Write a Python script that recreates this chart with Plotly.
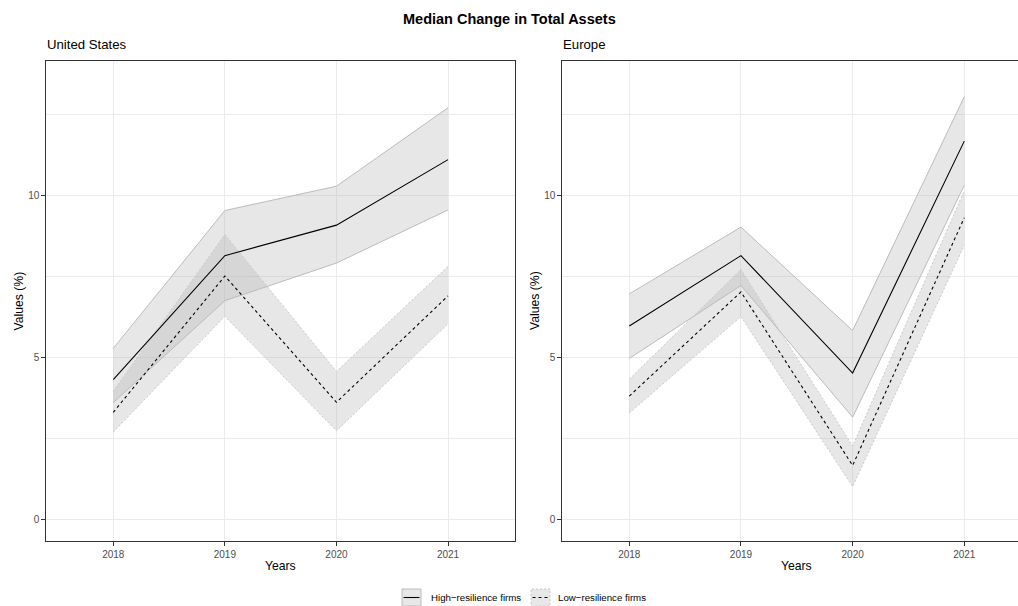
import plotly.graph_objects as go

# ---------------- data ----------------
years = [2018, 2019, 2020, 2021]

us_high = [4.33, 8.15, 9.09, 11.11]
us_high_lo = [3.62, 6.76, 7.92, 9.56]
us_high_hi = [5.29, 9.54, 10.29, 12.71]
us_low = [3.32, 7.52, 3.63, 6.91]
us_low_lo = [2.71, 6.28, 2.75, 6.05]
us_low_hi = [3.97, 8.80, 4.58, 7.82]

eu_high = [5.98, 8.15, 4.53, 11.68]
eu_high_lo = [4.98, 7.23, 3.17, 10.32]
eu_high_hi = [6.97, 9.03, 5.84, 13.05]
eu_low = [3.82, 7.03, 1.68, 9.32]
eu_low_lo = [3.30, 6.27, 1.03, 8.47]
eu_low_hi = [4.34, 7.72, 2.28, 10.15]

series_names = ["High\u2212resilience firms", "Low\u2212resilience firms"]
y_ticks = [0, 5, 10]

# ---------------- styling ----------------
W, H = 1018, 606
FONT = "Liberation Sans, Arial, sans-serif"
FILL = "rgba(175,175,175,0.30)"
BAND_LINE = "#BBBBBB"
BAND_LINE_LOW = "#C8C8C8"
AXIS_LINE = "#333333"
GRID = "#EBEBEB"
TICKTXT = "#4D4D4D"

def px(x):
    return x / W

def py(y):
    return 1 - y / H

fig = go.Figure()

panels = [
    ("x", "y", (us_high, us_high_lo, us_high_hi), (us_low, us_low_lo, us_low_hi)),
    ("x2", "y2", (eu_high, eu_high_lo, eu_high_hi), (eu_low, eu_low_lo, eu_low_hi)),
]

for xa, ya, high, low in panels:
    # ribbons
    for (mid, lo, hi) in (high, low):
        fig.add_trace(go.Scatter(
            x=years + years[::-1], y=hi + lo[::-1], xaxis=xa, yaxis=ya,
            mode="lines", fill="toself", fillcolor=FILL,
            line=dict(width=0), hoverinfo="skip", showlegend=False))
    # ribbon outlines
    for (mid, lo, hi), dash, col in ((high, "solid", BAND_LINE), (low, "2px,2px", BAND_LINE_LOW)):
        for edge in (lo, hi):
            fig.add_trace(go.Scatter(
                x=years, y=edge, xaxis=xa, yaxis=ya, mode="lines",
                line=dict(color=col, width=1, dash=dash),
                hoverinfo="skip", showlegend=False))
    # median lines
    for (mid, lo, hi), dash, name in ((high, "solid", series_names[0]), (low, "dot", series_names[1])):
        fig.add_trace(go.Scatter(
            x=years, y=mid, xaxis=xa, yaxis=ya, mode="lines", name=name,
            line=dict(color="black", width=1.1, dash=dash),
            showlegend=False))

yrange = [-0.657, 14.15]

common_x = dict(
    tickvals=years, ticks="outside", ticklen=4, tickcolor=AXIS_LINE, tickwidth=1,
    tickfont=dict(size=10, color=TICKTXT, family=FONT),
    showgrid=True, gridcolor=GRID, gridwidth=1, zeroline=False,
    showline=True, linecolor=AXIS_LINE, linewidth=1, mirror=True,
)
common_y = dict(
    range=yrange, tickvals=y_ticks, ticks="outside", ticklen=4, tickcolor=AXIS_LINE, tickwidth=1,
    tickfont=dict(size=10, color=TICKTXT, family=FONT),
    showgrid=True, gridcolor=GRID, gridwidth=1, zeroline=False,
    minor=dict(tickvals=[2.5, 7.5, 12.5], showgrid=True, gridcolor=GRID, gridwidth=0.6, ticks=""),
    showline=True, linecolor=AXIS_LINE, linewidth=1,
)

fig.update_layout(
    width=W, height=H,
    margin=dict(l=0, r=0, t=0, b=0),
    paper_bgcolor="white", plot_bgcolor="white",
    showlegend=False,
    font=dict(family=FONT, color="black"),
    xaxis=dict(common_x, domain=[px(46.3), px(515)], range=[2017.4, 2021.6], anchor="y"),
    yaxis=dict(common_y, domain=[py(541.3), py(61)], anchor="x", mirror=True),
    xaxis2=dict(common_x, domain=[px(562.3), 1.0], range=[2017.4, 2021.481], anchor="y2"),
    yaxis2=dict(common_y, domain=[py(541.3), py(61)], anchor="x2", mirror=False),
)

ann = []
ann.append(dict(text="<b>Median Change in Total Assets</b>", x=0.5, y=py(19), xref="paper", yref="paper",
                xanchor="center", yanchor="middle", showarrow=False, font=dict(size=14.5, family=FONT)))
for xl, t in ((46.3, "United States"), (562.3, "Europe")):
    ann.append(dict(text=t, x=px(xl - 1), y=py(45), xref="paper", yref="paper",
                    xanchor="left", yanchor="middle", showarrow=False, font=dict(size=13.2, family=FONT)))
for xc in ((46.3 + 515) / 2, (562.3 + 964.3 + 67) / 2):
    ann.append(dict(text="Years", x=px(xc), y=py(566), xref="paper", yref="paper",
                    xanchor="center", yanchor="middle", showarrow=False, font=dict(size=12.2, family=FONT)))
for xc in (18.5, 535):
    ann.append(dict(text="Values (%)", x=px(xc), y=py(301), xref="paper", yref="paper",
                    xanchor="center", yanchor="middle", textangle=-90, showarrow=False,
                    font=dict(size=12.2, family=FONT)))

# manual legend (ggplot-like keys)
shapes = []
key_specs = [(402, 430, "solid", "solid", BAND_LINE, series_names[0]),
             (531, 557, "2px,2px", "dot", BAND_LINE_LOW, series_names[1])]
for kx, tx, bdash, ldash, bcol, label in key_specs:
    shapes.append(dict(type="rect", xref="paper", yref="paper",
                       x0=px(kx), x1=px(kx + 19), y0=py(606), y1=py(589),
                       fillcolor=FILL, line=dict(color=bcol, width=1, dash=bdash)))
    shapes.append(dict(type="line", xref="paper", yref="paper",
                       x0=px(kx + 1.5), x1=px(kx + 17.5), y0=py(597.5), y1=py(597.5),
                       line=dict(color="black", width=1.1, dash=ldash)))
    ann.append(dict(text=label, x=px(tx - 1.5), y=py(597.5), xref="paper", yref="paper",
                    xanchor="left", yanchor="middle", showarrow=False,
                    font=dict(size=9.7, family=FONT)))

fig.update_layout(annotations=ann, shapes=shapes)
fig.write_html("out.html",
               config={"displayModeBar": False},
               post_script="document.body.style.margin='0';document.body.style.overflow='hidden';")
